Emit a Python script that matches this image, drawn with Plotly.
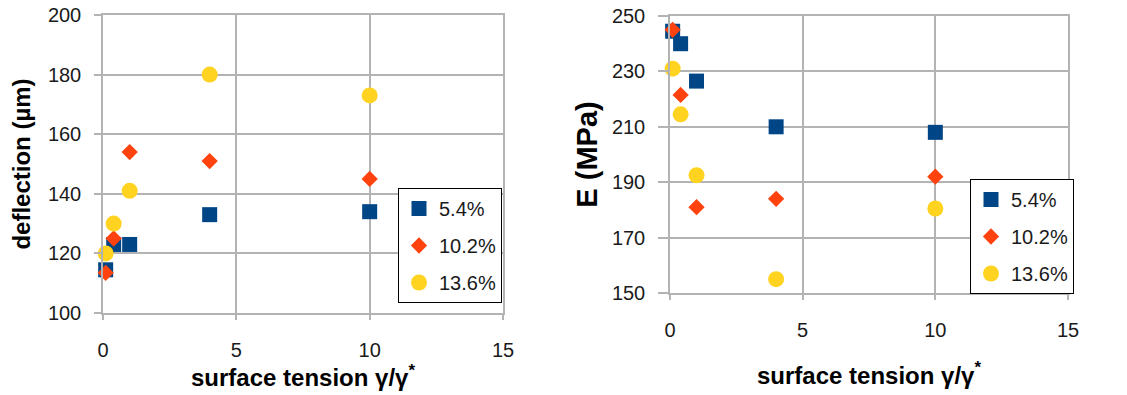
import plotly.graph_objects as go

# Surface tension ratio gamma/gamma*
gamma_ratio = [0.1, 0.4, 1, 4, 10]

# Deflection (µm) for each filler fraction
deflection_54 = [114.5, 123, 123, 133, 134]
deflection_102 = [113.5, 125, 154, 151, 145]
deflection_136 = [120, 130, 141, 180, 173]

# Young's modulus E (MPa) for each filler fraction
modulus_54 = [244.5, 240, 226.5, 210, 208]
modulus_102 = [245, 221.5, 181, 184, 192]
modulus_136 = [231, 214.5, 192.5, 155, 180.5]

series_names = ["5.4%", "10.2%", "13.6%"]
colors = ["#004586", "#ff420e", "#ffd320"]
symbols = ["square", "diamond", "circle"]
sizes = [15, 12.5, 16]

fig = go.Figure()

left_sets = [deflection_54, deflection_102, deflection_136]
right_sets = [modulus_54, modulus_102, modulus_136]

for i, name in enumerate(series_names):
    fig.add_trace(go.Scatter(
        x=gamma_ratio, y=left_sets[i], mode="markers", name=name,
        marker=dict(symbol=symbols[i], color=colors[i], size=sizes[i], line=dict(width=0)),
        xaxis="x", yaxis="y", legend="legend", legendgroup=f"l{i}", cliponaxis=False,
    ))
for i, name in enumerate(series_names):
    fig.add_trace(go.Scatter(
        x=gamma_ratio, y=right_sets[i], mode="markers", name=name,
        marker=dict(symbol=symbols[i], color=colors[i], size=sizes[i], line=dict(width=0)),
        xaxis="x2", yaxis="y2", legend="legend2", legendgroup=f"r{i}", cliponaxis=False,
    ))

grid = "#b3b3b3"
tick_font = dict(family="Liberation Sans", size=20, color="#1a1a1a")


def title_font(size):
    return dict(family="Liberation Sans", size=size, color="#000000", weight="bold")


def xaxis(domain, anchor, label_gap, title_gap):
    return dict(
        domain=domain, anchor=anchor, range=[0, 15], dtick=5, tick0=0,
        showgrid=True, gridcolor=grid, gridwidth=1.5, zeroline=False,
        showline=True, linecolor=grid, linewidth=1.5, mirror=True,
        ticks="outside", ticklen=5, tickcolor=grid, tickwidth=1.5,
        tickfont=tick_font, ticklabelstandoff=label_gap, automargin=False,
        title=dict(text="surface tension γ/γ<sup>*</sup>", font=title_font(24),
                   standoff=title_gap),
    )


def yaxis(domain, anchor, rng, title, size, standoff, ticklen):
    return dict(
        domain=domain, anchor=anchor, range=rng, dtick=20, tick0=rng[0],
        showgrid=True, gridcolor=grid, gridwidth=1.5, zeroline=False,
        showline=True, linecolor=grid, linewidth=1.5, mirror=True,
        ticks="outside", ticklen=ticklen, tickcolor=grid, tickwidth=1.5,
        tickfont=tick_font, ticklabelstandoff=9, automargin=False,
        title=dict(text=title, font=title_font(size), standoff=standoff),
    )


legend_style = dict(
    bgcolor="white", bordercolor="#000000", borderwidth=1,
    font=dict(family="Liberation Sans", size=20, color="#1a1a1a"),
    traceorder="grouped", tracegroupgap=8, itemsizing="trace",
    xanchor="left", yanchor="top",
)

fig.update_layout(
    width=1127, height=395,
    margin=dict(l=0, r=0, t=0, b=0),
    paper_bgcolor="white", plot_bgcolor="white",
    xaxis=xaxis([103 / 1127, 503 / 1127], "y", 13, 5),
    yaxis=yaxis([1 - 313 / 395, 1 - 15 / 395], "x", [100, 200], "deflection (µm)", 24, 10, 7),
    xaxis2=xaxis([670 / 1127, 1068 / 1127], "y2", 13, 27),
    yaxis2=yaxis([1 - 293 / 395, 1 - 16 / 395], "x2", [150, 250], "E (MPa)", 29, 6, 10),
    legend=dict(x=398 / 1127, y=1 - 188 / 395, **legend_style),
    legend2=dict(x=970 / 1127, y=1 - 179 / 395, **legend_style),
)

fig.write_html("out.html")
